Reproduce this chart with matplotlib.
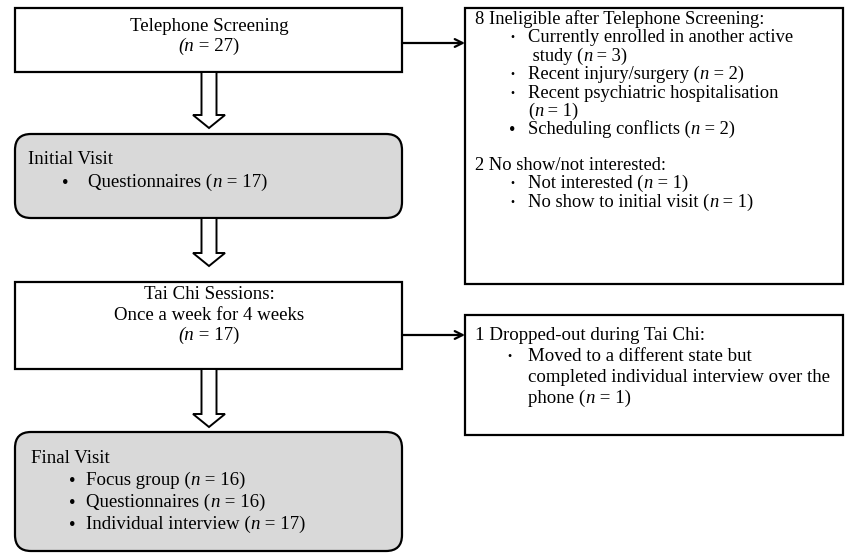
import matplotlib.pyplot as plt
from matplotlib.patches import FancyBboxPatch, Rectangle, Polygon

plt.rcParams['font.family'] = ['Liberation Serif', 'DejaVu Serif']

# flowchart text; segments between '$' are set in italics
screening_lines = ["Telephone Screening", "$(n$ = 27)"]
initial_title = "Initial Visit"
initial_items = ["Questionnaires ($n$ = 17)"]
taichi_lines = ["Tai Chi Sessions:", "Once a week for 4 weeks", "$(n$ = 17)"]
final_title = "Final Visit"
final_items = ["Focus group ($n$ = 16)", "Questionnaires ($n$ = 16)",
               "Individual interview ($n$ = 17)"]
inelig_title = "8 Ineligible after Telephone Screening:"
inelig_items = [["Currently enrolled in another active", " study ($n$ = 3)"],
                ["Recent injury/surgery ($n$ = 2)"],
                ["Recent psychiatric hospitalisation", "($n$ = 1)"],
                ["Scheduling conflicts ($n$ = 2)"]]
inelig_big_bullet = [False, False, False, True]
noshow_title = "2 No show/not interested:"
noshow_items = [["Not interested ($n$ = 1)"], ["No show to initial visit ($n$ = 1)"]]
dropout_title = "1 Dropped-out during Tai Chi:"
dropout_items = [["Moved to a different state but",
                  "completed individual interview over the",
                  "phone ($n$ = 1)"]]

FS = 13.6
FS_R = 13.3

fig = plt.figure(figsize=(8.48, 5.53), dpi=100)
ax = fig.add_axes([0, 0, 1, 1])
ax.set_xlim(0, 848)
ax.set_ylim(553, 0)
ax.axis('off')
renderer = fig.canvas.get_renderer()


def rich_text(x, y, s, fs, ha='left'):
    # draw a line made of upright and italic pieces, side by side
    parts = [(p, i % 2 == 1) for i, p in enumerate(s.split('$')) if p]
    widths = []
    for p, it in parts:
        t = ax.text(0, 0, p, fontsize=fs, style='italic' if it else 'normal')
        widths.append(t.get_window_extent(renderer).width)
        t.remove()
    x0 = x - sum(widths) / 2 if ha == 'center' else x
    for (p, it), w in zip(parts, widths):
        ax.text(x0, y, p, fontsize=fs, style='italic' if it else 'normal',
                va='baseline', ha='left')
        x0 += w


def rect_box(x0, y0, x1, y1):
    ax.add_patch(Rectangle((x0, y0), x1 - x0, y1 - y0, facecolor='white',
                           edgecolor='black', linewidth=1.6))


def round_box(x0, y0, x1, y1, r=16):
    ax.add_patch(FancyBboxPatch((x0 + r, y0 + r), x1 - x0 - 2 * r, y1 - y0 - 2 * r,
                                boxstyle="round,pad=%d,rounding_size=%d" % (r, r),
                                facecolor='#d9d9d9', edgecolor='black',
                                linewidth=1.6))


def block_arrow(xc, y0, ytip):
    sw, hw, hl = 7.5, 16, 13
    pts = [(xc - sw, y0), (xc + sw, y0), (xc + sw, ytip - hl), (xc + hw, ytip - hl),
           (xc, ytip), (xc - hw, ytip - hl), (xc - sw, ytip - hl)]
    ax.add_patch(Polygon(pts, closed=True, facecolor='white', edgecolor='black',
                         linewidth=1.4, joinstyle='miter'))


def side_arrow(x0, x1, y):
    ax.annotate("", xy=(x1, y), xytext=(x0, y),
                arrowprops=dict(arrowstyle='->', lw=1.6, color='black',
                                mutation_scale=14, shrinkA=0, shrinkB=0))


# y values below are line centres; baseline sits a bit lower
def base(y, fs):
    return y + fs * 0.45


def bullet_list(title, items, xt, y, xb, xi, lh, fs, big=None):
    rich_text(xt, base(y, fs), title, fs)
    y += lh
    for k, item in enumerate(items):
        large = True if big is None else big[k]
        ax.text(xb, y + 2, u"\u2022", fontsize=fs if large else fs - 5,
                va='center', ha='center')
        for line in item:
            rich_text(xi, base(y, fs), line, fs)
            y += lh
    return y


# left column
rect_box(15, 8, 402, 72)
for i, s in enumerate(screening_lines):
    rich_text(209, base(25 + i * 20, FS), s, FS, ha='center')
block_arrow(209, 72, 128)

round_box(15, 134, 402, 218)
bullet_list(initial_title, [[s] for s in initial_items], 28, 158, 65, 88, 23, FS)
block_arrow(209, 218, 266)

rect_box(15, 282, 402, 369)
for i, s in enumerate(taichi_lines):
    rich_text(209, base(293 + i * 20.5, FS), s, FS, ha='center')
block_arrow(209, 369, 427)

round_box(15, 432, 402, 551)
bullet_list(final_title, [[s] for s in final_items], 31, 457, 72, 86, 22, FS)

# right column
rect_box(465, 8, 843, 284)
y = bullet_list(inelig_title, inelig_items, 475, 18, 512, 528, 18.4, FS_R,
                big=inelig_big_bullet)
bullet_list(noshow_title, noshow_items, 475, y + 17, 512, 528, 18.4, FS_R,
            big=[False, False])
side_arrow(402, 465, 43)

rect_box(465, 315, 843, 435)
bullet_list(dropout_title, dropout_items, 475, 334, 509, 528, 21, FS, big=[False])
side_arrow(402, 465, 335)

fig.savefig("out.png", dpi=100)
